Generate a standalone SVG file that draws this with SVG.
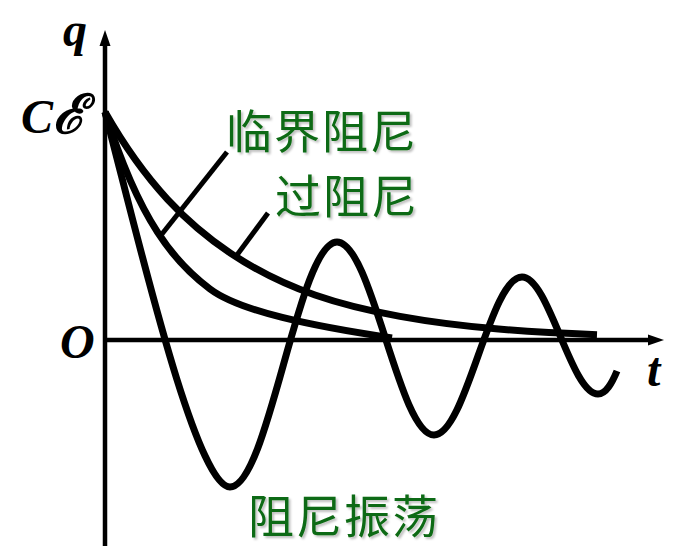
<svg xmlns="http://www.w3.org/2000/svg" width="693" height="554" viewBox="0 0 693 554">
<defs>
<style>
.ax{stroke:#000;stroke-width:4.5;fill:none}
.cv{stroke:#000;stroke-width:7;fill:none;stroke-linejoin:round}
.ld{stroke:#000;stroke-width:5;fill:none}
.m{font-family:"Liberation Serif","DejaVu Serif",serif;font-style:italic;font-weight:bold;font-size:48px;fill:#000}
.cn{font-family:"Noto Sans CJK SC",sans-serif;font-size:46px;font-weight:400;letter-spacing:2px;fill:#0c6a12;filter:url(#sh)}
</style>
<filter id="sh" x="-10%" y="-20%" width="130%" height="150%">
<feDropShadow dx="2" dy="2" stdDeviation="1.2" flood-color="#000" flood-opacity="0.25"/>
</filter>
</defs>
<rect width="693" height="554" fill="#fff"/>
<g id="axes">
<line class="ax" x1="105" y1="44" x2="105" y2="546"/>
<polygon points="105,30 99.5,46 110.5,46" fill="#000"/>
<line class="ax" x1="103" y1="340" x2="650" y2="340"/>
<polygon points="664,340 648,334.5 648,345.5" fill="#000"/>
</g>
<g id="curves">
<path id="overdamped" class="cv" d="M105,112 C146.7,185.1 188.3,224.8 230,252.8 C286.7,290.8 343.3,306.1 400,316.4 C465.7,328.3 531.3,332.2 597,334.8"/>
<path id="critical" class="cv" d="M105,112 C140,222.8 175,262.75 210,289 C240,311.5 312,326 392,338"/>
<path id="oscillation" class="cv" d="M105,112 C135,225 195,487 230,487 C268.5,487 298.5,242 337,242 C372,242 399,435 434,435 C466,435 490,277 522,277 C549,277 571,394 598,394 C606,394 612,383 617,371"/>
</g>
<g id="leaders">
<line class="ld" x1="227" y1="152" x2="162" y2="234"/>
<line class="ld" x1="268" y1="213" x2="237" y2="255"/>
</g>
<g id="labels">
<text class="m" x="63" y="46">q</text>
<text class="m" x="21" y="133">C<tspan font-family="'DejaVu Serif',serif" font-size="54">ℰ</tspan></text>
<text class="m" x="60" y="358">O</text>
<text class="m" x="647" y="386">t</text>
<text class="cn" x="226" y="148">临界阻尼</text>
<text class="cn" x="275" y="213">过阻尼</text>
<text class="cn" x="248" y="533">阻尼振荡</text>
</g>
</svg>
